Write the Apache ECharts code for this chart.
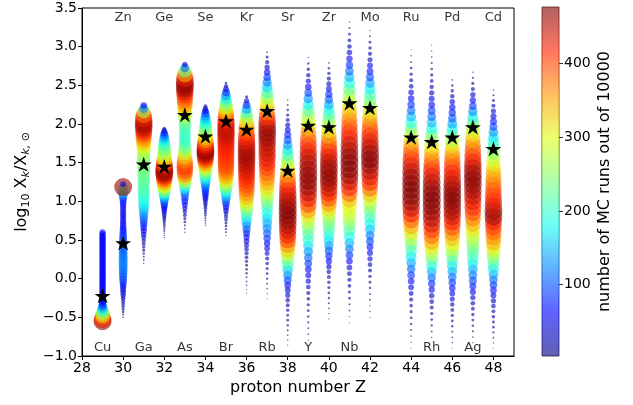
<!DOCTYPE html>
<html>
<head>
<meta charset="utf-8">
<script src="https://cdn.jsdelivr.net/npm/echarts@6/dist/echarts.min.js"></script>
<style>
  html, body { margin: 0; padding: 0; background: #ffffff; }
  #chart { width: 633px; height: 405px; }
</style>
</head>
<body>
<div id="chart"></div>
<script>
// Monte Carlo abundance distributions: for every element the 10000 runs are
// histogrammed into 50 equal bins of log10 X_k / X_k,sun spanning that element's range.
const elements = ['Cu', 'Zn', 'Ga', 'Ge', 'As', 'Se', 'Br', 'Kr', 'Rb', 'Sr',
                  'Y', 'Zr', 'Nb', 'Mo', 'Ru', 'Rh', 'Pd', 'Ag', 'Cd'];
const protonZ  = [29, 30, 31, 32, 33, 34, 35, 36, 37, 38,
                  39, 40, 41, 42, 44, 45, 46, 47, 48];
// centres of the lowest and highest bin of each element
const binLow  = [-0.55, -0.50, 0.20, 0.53, 0.60, 0.69, 0.56, -0.19, -0.26, -0.86,
                 -0.87, -0.52, -0.57, -0.50, -0.90, -0.76, -0.90, -0.90, -0.90];
const binHigh = [0.60, 1.22, 2.24, 1.94, 2.77, 2.23, 2.53, 2.35, 2.93, 2.31,
                 2.86, 2.79, 3.32, 3.21, 2.96, 3.02, 2.57, 2.67, 2.44];
// reference (starred) value for each element
const starValues = [-0.22, 0.46, 1.48, 1.45, 2.12, 1.84, 2.04, 1.93, 2.17, 1.40,
                    1.98, 1.96, 2.27, 2.21, 1.83, 1.77, 1.83, 1.96, 1.68];

// runs per bin, from the lowest bin upwards
const cuCounts = [470, 430, 390, 330, 280, 230, 185, 150, 115, 90, 72, 65, 60, 60, 60, 60,
                  60, 60, 60, 60, 60, 60, 60, 60, 60, 60, 60, 60, 60, 60, 60, 60, 60, 60,
                  60, 60, 60, 60, 60, 60, 60, 60, 60, 60, 60, 60, 60, 60, 58, 55];
const znCounts = [5, 7, 10, 13, 17, 21, 26, 32, 38, 45, 50, 57, 65, 76, 88, 95, 102, 109,
                  113, 117, 120, 120, 117, 114, 111, 107, 103, 100, 96, 92, 85, 78, 70,
                  65, 61, 57, 55, 55, 55, 55, 56, 58, 62, 70, 90, 115, 150, 210, 470, 50];
const gaCounts = [3, 5, 7, 10, 13, 17, 22, 28, 36, 45, 55, 65, 75, 87, 103, 120, 137, 155,
                  168, 180, 190, 197, 205, 212, 215, 219, 222, 226, 230, 234, 240, 244,
                  248, 252, 260, 272, 298, 322, 348, 374, 398, 425, 450, 460, 455, 430,
                  380, 260, 120, 60];
const geCounts = [2, 3, 4, 6, 7, 10, 12, 15, 19, 24, 28, 34, 42, 51, 62, 75, 94, 115, 138,
                  165, 195, 230, 262, 292, 320, 350, 378, 407, 435, 458, 468, 460, 438,
                  405, 370, 335, 310, 285, 265, 248, 238, 225, 208, 190, 165, 135, 105,
                  75, 45, 20];
const asCounts = [3, 5, 7, 11, 15, 21, 28, 38, 51, 65, 82, 104, 135, 176, 225, 277, 330,
                  372, 398, 408, 396, 366, 325, 284, 252, 227, 210, 201, 200, 203, 208,
                  214, 227, 246, 273, 300, 327, 353, 373, 391, 413, 440, 462, 470, 460,
                  426, 345, 230, 110, 40];
const seCounts = [3, 4, 5, 7, 9, 12, 15, 19, 24, 30, 36, 46, 55, 65, 77, 90, 107, 125,
                  145, 170, 195, 220, 245, 273, 305, 336, 367, 399, 426, 451, 465, 468,
                  443, 418, 392, 360, 329, 297, 272, 250, 232, 213, 194, 175, 152, 126,
                  94, 63, 40, 20];
const brCounts = [3, 5, 7, 10, 14, 19, 25, 33, 44, 57, 75, 96, 125, 156, 188, 220, 252,
                  285, 317, 345, 366, 381, 394, 399, 402, 406, 410, 414, 418, 422, 427,
                  431, 440, 444, 445, 444, 437, 421, 397, 368, 332, 292, 251, 211, 171,
                  131, 90, 50, 25, 10];
const krCounts = [2, 3, 4, 5, 6, 9, 11, 13, 16, 20, 25, 31, 37, 47, 57, 71, 91, 116, 146,
                  177, 208, 244, 280, 312, 342, 363, 382, 398, 407, 418, 428, 438, 447,
                  452, 457, 460, 458, 450, 436, 417, 396, 376, 347, 308, 258, 198, 136,
                  83, 41, 15];
const rbCounts = [2, 3, 4, 6, 8, 11, 14, 19, 26, 36, 48, 61, 81, 100, 120, 140, 159, 178,
                  199, 225, 255, 287, 318, 344, 365, 385, 404, 419, 431, 437, 444, 451,
                  462, 468, 465, 448, 412, 373, 334, 295, 256, 212, 164, 119, 85, 61, 41,
                  26, 14, 5];
const srCounts = [2, 3, 4, 6, 8, 11, 13, 17, 23, 30, 38, 50, 65, 87, 118, 156, 195, 234,
                  283, 323, 365, 399, 424, 441, 454, 466, 472, 475, 470, 462, 449, 436,
                  416, 390, 360, 327, 289, 250, 211, 172, 133, 99, 73, 53, 38, 25, 16, 10,
                  5, 3];
const yCounts  = [2, 2, 4, 5, 7, 8, 11, 15, 19, 25, 32, 40, 51, 64, 84, 106, 129, 159,
                  190, 213, 241, 274, 312, 358, 398, 425, 447, 462, 470, 470, 465, 461,
                  453, 442, 425, 402, 372, 337, 299, 261, 221, 175, 130, 89, 62, 41, 28,
                  16, 8, 3];
const zrCounts = [2, 3, 4, 6, 8, 11, 14, 18, 24, 32, 41, 55, 75, 98, 125, 157, 184, 209,
                  229, 250, 280, 319, 360, 393, 420, 441, 457, 465, 470, 466, 459, 450,
                  432, 411, 382, 348, 314, 280, 252, 218, 184, 145, 106, 76, 54, 38, 26,
                  17, 9, 4];
const nbCounts = [2, 3, 5, 7, 10, 14, 19, 25, 35, 47, 62, 81, 108, 141, 177, 208, 240,
                  269, 292, 305, 340, 385, 418, 442, 462, 471, 475, 474, 465, 453, 438,
                  422, 404, 380, 351, 326, 295, 263, 226, 189, 147, 111, 81, 60, 44, 32,
                  20, 11, 6, 3];
const moCounts = [2, 3, 3, 5, 6, 9, 12, 17, 23, 31, 41, 54, 70, 90, 114, 144, 174, 201,
                  225, 255, 292, 334, 378, 411, 433, 448, 464, 475, 473, 461, 446, 431,
                  408, 381, 350, 316, 278, 240, 209, 174, 136, 99, 71, 51, 37, 26, 18, 11,
                  5, 2];
const ruCounts = [2, 3, 4, 6, 8, 11, 15, 19, 26, 35, 48, 64, 84, 107, 136, 168, 199, 231,
                  269, 308, 348, 387, 418, 444, 463, 472, 475, 475, 469, 462, 447, 427,
                  404, 375, 333, 286, 238, 191, 149, 111, 82, 61, 45, 33, 24, 16, 11, 6,
                  4, 2];
const rhCounts = [3, 5, 8, 11, 16, 23, 31, 43, 57, 78, 105, 139, 179, 226, 270, 308, 347,
                  381, 408, 432, 452, 461, 469, 475, 475, 472, 460, 445, 430, 407, 378,
                  347, 310, 272, 234, 186, 146, 112, 87, 66, 51, 40, 29, 21, 15, 10, 7, 4,
                  3, 2];
const pdCounts = [2, 3, 5, 6, 9, 12, 16, 21, 29, 38, 49, 65, 85, 108, 138, 166, 201, 237,
                  272, 303, 336, 365, 393, 418, 440, 454, 464, 471, 475, 470, 460, 446,
                  432, 418, 398, 374, 345, 310, 271, 228, 183, 139, 105, 80, 60, 43, 29,
                  18, 9, 4];
const agCounts = [2, 3, 4, 6, 8, 12, 17, 23, 31, 41, 54, 70, 93, 114, 138, 167, 195, 218,
                  238, 260, 283, 312, 341, 370, 395, 414, 429, 443, 456, 466, 471, 469,
                  459, 444, 422, 400, 376, 347, 309, 270, 225, 174, 125, 86, 58, 41, 26,
                  15, 7, 3];
const cdCounts = [2, 3, 5, 7, 10, 13, 18, 23, 31, 41, 52, 67, 85, 109, 137, 171, 205, 239,
                  273, 307, 340, 364, 385, 405, 426, 460, 463, 443, 428, 415, 401, 387,
                  373, 355, 333, 303, 279, 251, 224, 197, 167, 133, 99, 74, 54, 38, 25,
                  14, 7, 4];

const countTable = [cuCounts, znCounts, gaCounts, geCounts, asCounts, seCounts, brCounts,
                    krCounts, rbCounts, srCounts, yCounts, zrCounts, nbCounts, moCounts,
                    ruCounts, rhCounts, pdCounts, agCounts, cdCounts];

// element names printed above / below their column
const topLabels    = ['Zn', 'Ge', 'Se', 'Kr', 'Sr', 'Zr', 'Mo', 'Ru', 'Pd', 'Cd'];
const bottomLabels = ['Cu', 'Ga', 'As', 'Br', 'Rb', 'Y', 'Nb', 'Rh', 'Ag'];
const topLabelY = 3.37;
const bottomLabelY = -0.89;

const xTicks = [28, 30, 32, 34, 36, 38, 40, 42, 44, 46, 48];
const cbarTicks = [100, 200, 300, 400];
const countMin = 3, countMax = 477;

// jet colour map, sampled at 9 equally spaced stops
const jet = ['#000080', '#0000ff', '#0080ff', '#14fff2', '#7aff7a',
             '#e3ff14', '#ff9700', '#ff2100', '#800000'];

// ---- build the series data ----
const binPoints = [];
countTable.forEach((counts, i) => {
  const step = (binHigh[i] - binLow[i]) / (counts.length - 1);
  counts.forEach((c, j) => {
    binPoints.push([protonZ[i], +(binLow[i] + j * step).toFixed(4), c]);
  });
});
const starPoints = protonZ.map((z, i) => [z, starValues[i]]);
const zOf = name => protonZ[elements.indexOf(name)];
const labelPoints = topLabels.map(n => ({ value: [zOf(n), topLabelY], name: n }))
  .concat(bottomLabels.map(n => ({ value: [zOf(n), bottomLabelY], name: n })));

const STAR = 'path://M0,-10 L2.25,-3.09 L9.51,-3.09 L3.63,1.18 L5.88,8.09 L0,3.82 ' +
             'L-5.88,8.09 L-3.63,1.18 L-9.51,-3.09 L-2.25,-3.09 Z';

const FONT = 'DejaVu Sans';
const fmtY = v => (v < 0 ? '\u2212' + Math.abs(v).toFixed(1) : v.toFixed(1));

function hexToRgba(hex, a) {
  const n = parseInt(hex.slice(1), 16);
  return 'rgba(' + ((n >> 16) & 255) + ',' + ((n >> 8) & 255) + ',' + (n & 255) + ',' + a + ')';
}
const cbarStops = jet.map((c, i) => ({ offset: i / (jet.length - 1), color: hexToRgba(c, 0.62) }));

const chart = echarts.init(document.getElementById('chart'), null, { renderer: 'canvas' });

chart.setOption({
  animation: false,
  backgroundColor: '#ffffff',
  textStyle: { fontFamily: FONT },
  grid: [
    { left: 82, right: 119, top: 8, bottom: 49, show: true,
      borderColor: '#000', borderWidth: 1, backgroundColor: 'transparent' },
    { left: 542, width: 17, top: 7, bottom: 49, show: true,
      borderColor: '#333', borderWidth: 0.8, backgroundColor: 'transparent' }
  ],
  xAxis: [
    {
      type: 'value', gridIndex: 0, min: 28, max: 49,
      name: 'proton number Z', nameLocation: 'middle', nameGap: 24,
      nameTextStyle: { fontSize: 16, color: '#000', fontFamily: FONT },
      axisLine: { show: true, onZero: false, lineStyle: { color: '#000', width: 1 } },
      axisTick: { show: true, inside: false, length: 4, customValues: xTicks,
                  lineStyle: { color: '#000' } },
      axisLabel: { show: true, fontSize: 14, color: '#000', margin: 5,
                   customValues: xTicks, fontFamily: FONT },
      splitLine: { show: false }
    },
    { type: 'category', gridIndex: 1, data: ['c'], show: false }
  ],
  yAxis: [
    {
      type: 'value', gridIndex: 0, min: -1, max: 3.5, interval: 0.5,
      name: '{n|log}{s|10}{n| X}{si|k}{n|/X}{si|k,}{s| \u2299}',
      nameLocation: 'middle', nameGap: 44, nameRotate: 90,
      nameTextStyle: {
        fontSize: 16, color: '#000', fontFamily: FONT,
        rich: {
          n:  { fontSize: 16, fontFamily: FONT, color: '#000', lineHeight: 22, verticalAlign: 'top' },
          s:  { fontSize: 11, fontFamily: FONT, color: '#000', lineHeight: 22, verticalAlign: 'top', padding: [7, 0, 0, 0] },
          si: { fontSize: 11, fontFamily: FONT, color: '#000', fontStyle: 'italic', lineHeight: 22, verticalAlign: 'top', padding: [7, 0, 0, 0] }
        }
      },
      axisLine: { show: true, onZero: false, lineStyle: { color: '#000', width: 1 } },
      axisTick: { show: true, inside: false, length: 4, lineStyle: { color: '#000' } },
      axisLabel: { show: true, fontSize: 14, color: '#000', margin: 5,
                   formatter: fmtY, fontFamily: FONT },
      splitLine: { show: false }
    },
    {
      type: 'value', gridIndex: 1, min: countMin, max: countMax, position: 'right',
      name: 'number of MC runs out of 10000', nameLocation: 'middle',
      nameGap: 38, nameRotate: 90,
      nameTextStyle: { fontSize: 16, color: '#000', fontFamily: FONT },
      axisLine: { show: false },
      axisTick: { show: true, inside: false, length: 4, customValues: cbarTicks,
                  lineStyle: { color: '#333' } },
      axisLabel: { show: true, fontSize: 14, color: '#000', margin: 5,
                   customValues: cbarTicks, fontFamily: FONT },
      splitLine: { show: false }
    }
  ],
  visualMap: {
    show: false, type: 'continuous', seriesIndex: 0, dimension: 2,
    min: countMin, max: countMax, inRange: { color: jet }
  },
  series: [
    {
      name: 'MC runs', type: 'scatter', xAxisIndex: 0, yAxisIndex: 0,
      data: binPoints,
      symbol: 'circle',
      symbolSize: v => 0.83 * Math.sqrt(v[2]),
      itemStyle: { opacity: 0.6 },
      progressive: 0, large: false, silent: true, z: 2
    },
    {
      name: 'reference', type: 'scatter', xAxisIndex: 0, yAxisIndex: 0,
      data: starPoints,
      symbol: STAR, symbolSize: [16, 15],
      itemStyle: { color: '#000', opacity: 1 },
      silent: true, z: 5
    },
    {
      name: 'elements', type: 'scatter', xAxisIndex: 0, yAxisIndex: 0,
      data: labelPoints,
      symbolSize: 1, itemStyle: { color: 'rgba(0,0,0,0)' },
      label: { show: true, position: 'inside', formatter: p => p.name,
               fontSize: 13, color: '#000', fontFamily: FONT },
      silent: true, z: 6
    },
    {
      name: 'colorbar', type: 'bar', xAxisIndex: 1, yAxisIndex: 1,
      data: [countMax], barWidth: '100%', silent: true,
      itemStyle: {
        color: { type: 'linear', x: 0, y: 1, x2: 0, y2: 0, colorStops: cbarStops }
      }
    }
  ]
});
</script>
</body>
</html>
